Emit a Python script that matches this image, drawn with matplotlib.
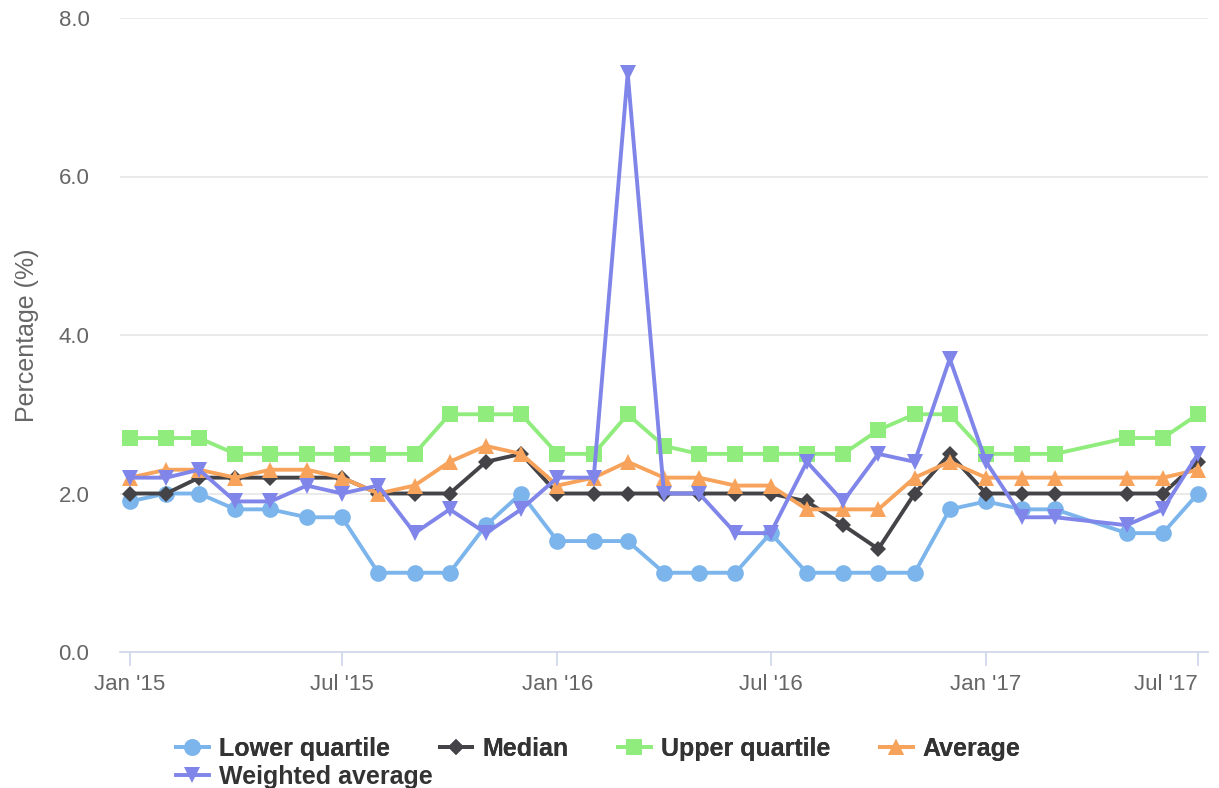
import datetime as dt
import matplotlib
matplotlib.use("Agg")
import matplotlib.pyplot as plt

plt.rcParams['font.family'] = ['Liberation Sans', 'DejaVu Sans']

# monthly observations (no data for Apr '17)
months = ["2015-01", "2015-02", "2015-03", "2015-04", "2015-05", "2015-06",
          "2015-07", "2015-08", "2015-09", "2015-10", "2015-11", "2015-12",
          "2016-01", "2016-02", "2016-03", "2016-04", "2016-05", "2016-06",
          "2016-07", "2016-08", "2016-09", "2016-10", "2016-11", "2016-12",
          "2017-01", "2017-02", "2017-03", "2017-05", "2017-06", "2017-07"]

lower_quartile = [1.9, 2.0, 2.0, 1.8, 1.8, 1.7, 1.7, 1.0, 1.0, 1.0, 1.6, 2.0,
                  1.4, 1.4, 1.4, 1.0, 1.0, 1.0, 1.5, 1.0, 1.0, 1.0, 1.0, 1.8,
                  1.9, 1.8, 1.8, 1.5, 1.5, 2.0]
median = [2.0, 2.0, 2.2, 2.2, 2.2, 2.2, 2.2, 2.0, 2.0, 2.0, 2.4, 2.5,
          2.0, 2.0, 2.0, 2.0, 2.0, 2.0, 2.0, 1.9, 1.6, 1.3, 2.0, 2.5,
          2.0, 2.0, 2.0, 2.0, 2.0, 2.4]
upper_quartile = [2.7, 2.7, 2.7, 2.5, 2.5, 2.5, 2.5, 2.5, 2.5, 3.0, 3.0, 3.0,
                  2.5, 2.5, 3.0, 2.6, 2.5, 2.5, 2.5, 2.5, 2.5, 2.8, 3.0, 3.0,
                  2.5, 2.5, 2.5, 2.7, 2.7, 3.0]
average = [2.2, 2.3, 2.3, 2.2, 2.3, 2.3, 2.2, 2.0, 2.1, 2.4, 2.6, 2.5,
           2.1, 2.2, 2.4, 2.2, 2.2, 2.1, 2.1, 1.8, 1.8, 1.8, 2.2, 2.4,
           2.2, 2.2, 2.2, 2.2, 2.2, 2.3]
weighted_average = [2.2, 2.2, 2.3, 1.9, 1.9, 2.1, 2.0, 2.1, 1.5, 1.8, 1.5, 1.8,
                    2.2, 2.2, 7.3, 2.0, 2.0, 1.5, 1.5, 2.4, 1.9, 2.5, 2.4, 3.7,
                    2.4, 1.7, 1.7, 1.6, 1.8, 2.5]

tick_months = ["2015-01", "2015-07", "2016-01", "2016-07", "2017-01", "2017-07"]
tick_labels = ["Jan '15", "Jul '15", "Jan '16", "Jul '16", "Jan '17", "Jul '17"]
y_ticks = [0, 2, 4, 6, 8]

dates = [dt.datetime.strptime(m, "%Y-%m") for m in months]
tick_dates = [dt.datetime.strptime(m, "%Y-%m") for m in tick_months]

fig = plt.figure(figsize=(12.19, 7.88), dpi=100)
ax = fig.add_axes([120 / 1219, 1 - 652 / 788, 1088 / 1219, 634 / 788])

series = [
    ("Lower quartile", lower_quartile, "#7cb5ec", "o", 12),
    ("Median", median, "#434348", "D", 8.5),
    ("Upper quartile", upper_quartile, "#90ed7d", "s", 11),
    ("Average", average, "#f7a35c", "^", 12),
    ("Weighted average", weighted_average, "#8085e9", "v", 12),
]
handles = []
for name, vals, col, mk, ms in series:
    h, = ax.plot(dates, vals, color=col, lw=2.8, marker=mk, markersize=ms,
                 markeredgewidth=0, label=name, clip_on=False)
    handles.append(h)

ax.set_ylim(0, 8)
ax.set_xlim(dates[0] - dt.timedelta(days=8.5), tick_dates[-1] + dt.timedelta(days=8.5))
ax.set_yticks(y_ticks)
ax.set_yticklabels(["%.1f" % v for v in y_ticks])
ax.set_xticks(tick_dates)
ax.set_xticklabels(tick_labels)
# last label is pushed inside the chart, like the reference
ax.get_xticklabels()[-1].set_horizontalalignment('right')

ax.grid(axis='y', color='#e6e6e6', lw=1.2)
ax.set_axisbelow(True)
for s in ['top', 'right', 'left']:
    ax.spines[s].set_visible(False)
ax.spines['bottom'].set_color('#ccd6eb')
ax.spines['bottom'].set_linewidth(1.2)
ax.tick_params(axis='y', length=0, pad=22, labelsize=16, labelcolor='#666666')
ax.tick_params(axis='x', length=10, width=1.2, color='#ccd6eb', pad=6,
               labelsize=16, labelcolor='#666666')

ax.set_ylabel("Percentage (%)", fontsize=18, color='#666666', labelpad=14)

leg_kw = dict(frameon=False, loc='upper left',
              prop={'weight': 'bold', 'size': 18}, labelcolor='#333333',
              handlelength=1.3, handletextpad=0.4, columnspacing=2.0,
              borderaxespad=0, borderpad=0)
# first row: four items, second row: weighted average
leg1 = fig.legend(handles[:4], [s[0] for s in series[:4]], ncol=4,
                  bbox_to_anchor=(176 / 1219, 1 - 737 / 788), **leg_kw)
fig.add_artist(leg1)
fig.legend(handles[4:], [series[4][0]], ncol=1,
           bbox_to_anchor=(176 / 1219, 1 - 765 / 788), **leg_kw)

fig.savefig("out.png", dpi=100)
